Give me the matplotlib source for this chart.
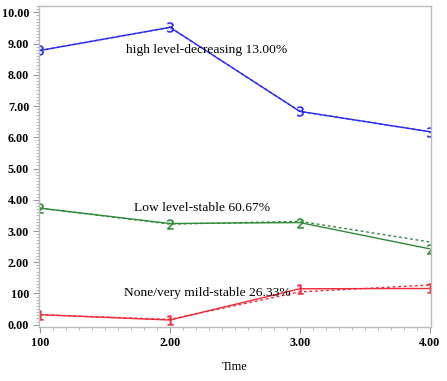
import matplotlib
matplotlib.use('Agg')
import matplotlib.pyplot as plt
from matplotlib.ticker import MultipleLocator

plt.rcParams['font.family'] = ['Liberation Serif', 'DejaVu Serif']

time = [1, 2, 3, 4]
x_ticklabels = ['100', '2.00', '3.00', '4.00']
y_ticks = [0, 1, 2, 3, 4, 5, 6, 7, 8, 9, 10]
y_ticklabels = ['0.00', '100', '2.00', '3.00', '4.00', '5.00', '6.00', '7.00', '8.00', '9.00', '10.00']

# observed (solid) and estimated (dashed) per group
high_obs = [8.78, 9.52, 6.83, 6.18]
high_est = [8.78, 9.52, 6.83, 6.18]
low_obs = [3.73, 3.24, 3.27, 2.43]
low_est = [3.73, 3.22, 3.31, 2.65]
none_obs = [0.32, 0.15, 1.15, 1.16]
none_est = [0.32, 0.17, 1.05, 1.27]

labels = ['high level-decreasing 13.00%', 'Low level-stable 60.67%', 'None/very mild-stable 26.33%']
label_pos = [(2.28, 8.79), (2.25, 3.74), (2.29, 1.02)]

blue = '#2a2af0'
green = '#2f8a3a'
red = '#f02a3a'

fig = plt.figure(figsize=(4.47, 3.81), dpi=100)
ax = fig.add_axes([0.087, 0.142, 0.877, 0.842])

for obs, est, c, m in [(high_obs, high_est, blue, '$3$'),
                       (low_obs, low_est, green, '$2$'),
                       (none_obs, none_est, red, '$1$')]:
    ax.plot(time, est, color=c, lw=1.0, ls=(0, (2, 2)))
    ax.plot(time, obs, color=c, lw=1.0, marker=m, markersize=7,
            markeredgewidth=0.4)

for txt, (x, y) in zip(labels, label_pos):
    ax.text(x, y, txt, ha='center', va='center', fontsize=9.7, color='black')

ax.set_xlim(0.99, 4.01)
ax.set_ylim(-0.07, 10.2)
ax.set_xticks(time)
ax.set_xticklabels(x_ticklabels, fontsize=8.7, fontweight='bold')
ax.set_yticks(y_ticks)
ax.set_yticklabels(y_ticklabels, fontsize=8.7, fontweight='bold')
ax.xaxis.set_minor_locator(MultipleLocator(0.1))
ax.yaxis.set_minor_locator(MultipleLocator(0.1))
ax.tick_params(which='major', direction='out', length=4, color='#999999', pad=3)
ax.tick_params(which='minor', direction='out', length=2.5, color='#aaaaaa')
ax.set_xlabel('Time', fontsize=9, labelpad=9)
for s in ax.spines.values():
    s.set_color('#bbbbbb')
    s.set_linewidth(1.0)

fig.savefig('out.png', dpi=100)
